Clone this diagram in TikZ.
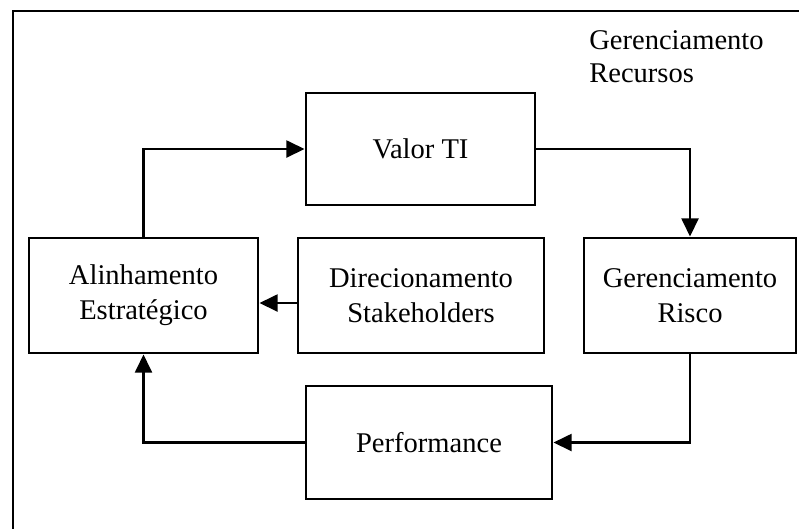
\documentclass[tikz,border=0pt]{standalone}
\usepackage{fontspec}
\setmainfont{Liberation Serif}
\usetikzlibrary{arrows.meta}
\tikzset{
  box/.style={draw, line width=2pt, align=center, inner sep=0pt,
    font=\fontsize{20.3}{25}\selectfont},
  flow/.style={line width=2pt, -{Triangle[length=13pt,width=12pt]}}
}
\begin{document}
\begin{tikzpicture}[x=0.025cm, y=-0.025cm]
\useasboundingbox (0,0) rectangle (799,529);

% outer frame (cut at the right and bottom)
\draw[line width=1.8pt] (799,11) -- (13,11) -- (13,529);

\node[align=left, anchor=north west, inner sep=0pt,
      font=\fontsize{20.3}{23.5}\selectfont] (recursos) at (589,30)
  {Gerenciamento\\Recursos};

\node[box, minimum width=229*0.025cm, minimum height=112*0.025cm] (valor) at (420.5,149) {Valor TI};
\node[box, minimum width=229*0.025cm, minimum height=115*0.025cm] (alinh) at (143.5,295.5) {Alinhamento\\Estratégico};
\node[box, minimum width=246*0.025cm, minimum height=115*0.025cm] (direc) at (421,295.5) {Direcionamento\\Stakeholders};
\node[box, minimum width=212*0.025cm, minimum height=115*0.025cm] (risco) at (690,295.5) {Gerenciamento\\Risco};
\node[box, minimum width=246*0.025cm, minimum height=113*0.025cm] (perf) at (429,442.5) {Performance};

% cycle
\draw[flow] (alinh.north) |- (valor.west);
\draw[flow] (valor.east) -| (risco.north);
\draw[flow] (risco.south) |- (perf.east);
\draw[flow] (perf.west) -| (alinh.south);
\draw[flow] ([yshift=-7.5*0.025cm]direc.west) -- ([yshift=-7.5*0.025cm]alinh.east);
\end{tikzpicture}
\end{document}
